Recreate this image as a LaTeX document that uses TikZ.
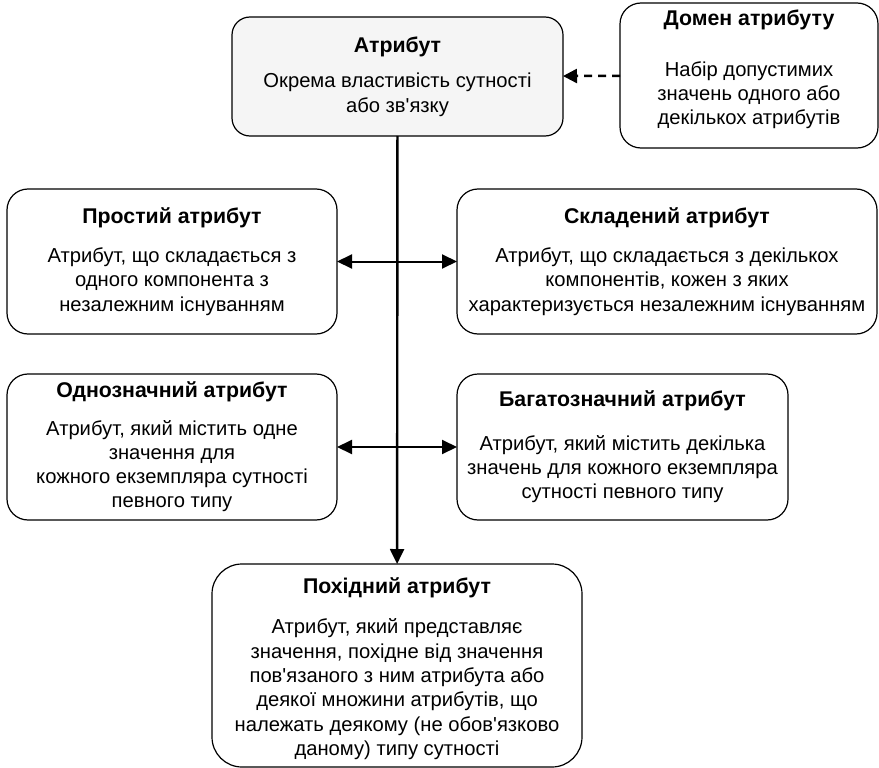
\documentclass[tikz,border=0pt]{standalone}
\usepackage{fontspec}
\setmainfont{Liberation Sans}
\usepackage{tikz}
\usetikzlibrary{arrows.meta,positioning}

\newcommand{\titlefont}{\fontsize{21.3}{24.3}\selectfont\bfseries}

\begin{document}
\begin{tikzpicture}[
    x=1pt, y=-1pt,
    every node/.style={font=\fontsize{20.2}{24.3}\selectfont},
    box/.style={rectangle, draw, rounded corners=21pt, line width=1.2pt, align=center, outer sep=0pt, fill=white},
    arrow/.style={-{Triangle[length=15pt, width=14pt]}, line width=2.4pt},
    biarrow/.style={{Triangle[length=15pt, width=14pt]}-{Triangle[length=15pt, width=14pt]}, line width=2pt},
    domarrow/.style={-{Triangle[length=14pt, width=14pt]}, line width=2.5pt, dash pattern=on 8pt off 6pt}
]

\useasboundingbox (0,0) rectangle (879,768);

% Attribute
\node[box, fill=black!4, rounded corners=18pt, minimum width=331pt, minimum height=119pt] (attr) at (397.5,76.5)
    {{\titlefont Атрибут}\\[11pt]Окрема властивість сутності\\або зв\textquotesingle язку};

% Domain
\node[box, minimum width=258pt, minimum height=145pt] (domain) at (749,75.5)
    {{\titlefont Домен атрибуту}\\[26pt]Набір допустимих\\значень одного або\\декількох атрибутів\\[-8pt]\mbox{}};

% Simple
\node[box, minimum width=330pt, minimum height=145pt] (simple) at (172,261.5)
    {{\titlefont Простий атрибут}\\[15pt]Атрибут, що складається з\\одного компонента з\\незалежним існуванням};

% Composite
\node[box, minimum width=420pt, minimum height=145pt] (composite) at (667,261.5)
    {{\titlefont Складений атрибут}\\[15pt]Атрибут, що складається з декількох\\компонентів, кожен з яких\\характеризується незалежним існуванням};

% Single-valued
\node[box, minimum width=330pt, minimum height=146pt] (single) at (172,447)
    {{\titlefont Однозначний атрибут}\\[13pt]Атрибут, який містить одне\\значення для\\кожного екземпляра сутності\\певного типу};

% Multi-valued
\node[box, minimum width=331pt, minimum height=146pt] (multi) at (622.5,447)
    {{\titlefont Багатозначний атрибут}\\[19pt]Атрибут, який містить декілька\\значень для кожного екземпляра\\сутності певного типу};

% Derived
\node[box, rounded corners=30pt, minimum width=370pt, minimum height=203pt] (derived) at (397,665.5)
    {\mbox{}\\[-2pt]{\titlefont Похідний атрибут}\\[16pt]Атрибут, який представляє\\значення, похідне від значення\\пов\textquotesingle язаного з ним атрибута або\\деякої множини атрибутів, що\\належать деякому (не обов\textquotesingle язково\\даному) типу сутності};

% Arrows
\draw[arrow] (attr) -- (derived);
\draw[biarrow] (simple) -- (composite);
\draw[biarrow] (single) -- (multi);
\draw[domarrow] (domain) -- (attr);

\end{tikzpicture}
\end{document}
